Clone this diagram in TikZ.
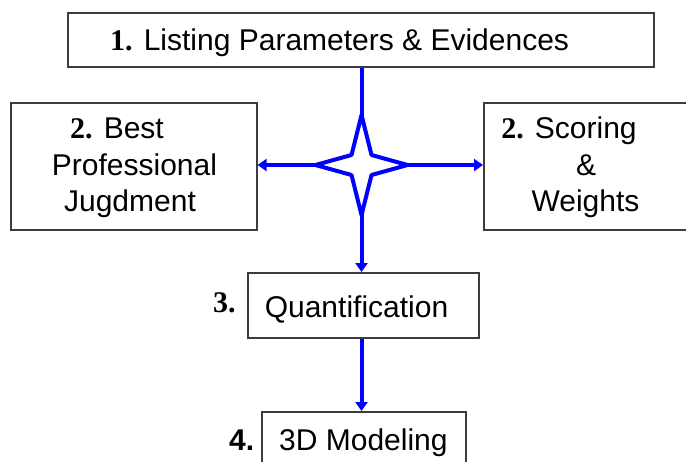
\documentclass[tikz,border=0pt]{standalone}
\usepackage{fontspec}
\setmainfont{Liberation Sans}
\newfontfamily\numserif{Liberation Serif}
\usetikzlibrary{arrows.meta}
\definecolor{arrowblue}{RGB}{0,0,255}
\definecolor{boxgray}{RGB}{60,60,60}
\begin{document}
\begin{tikzpicture}[x=1pt,y=-1pt,
  boxnode/.style={draw=boxgray,line width=1.6pt,fill=white,inner sep=0pt,anchor=north west},
  txt/.style={inner sep=0pt,font=\fontsize{30}{36}\selectfont,anchor=base},
  flow/.style={draw=arrowblue,line width=4pt},
  tipend/.style={-{Triangle[length=9pt,width=12pt]}},
  tipboth/.style={{Triangle[length=9pt,width=12pt]}-{Triangle[length=9pt,width=12pt]}}
]
\useasboundingbox (0,0) rectangle (686,461);

% boxes
\node[boxnode,minimum width=586pt,minimum height=54pt] (b1) at (67,12) {};
\node[boxnode,minimum width=246pt,minimum height=127pt] (bpj) at (10,102) {};
\node[boxnode,minimum width=210pt,minimum height=127pt] (sw) at (483,102) {};
\node[boxnode,minimum width=231pt,minimum height=65pt] (q) at (247,272) {};
\node[boxnode,minimum width=204pt,minimum height=70pt] (m) at (261,411) {};

\coordinate (sc) at (361.5,165);

% connectors
\draw[flow,tipend] (b1.south -| sc) -- (q.north -| sc);
\draw[flow,tipboth] (bpj.east |- sc) -- (sw.west |- sc);
\draw[flow,tipend] (q.south -| sc) -- (m.north -| sc);

% star
\draw[flow,fill=white,line join=round]
  ([shift={(0,-50)}]sc) -- ([shift={(10,-10)}]sc) -- ([shift={(46,0)}]sc)
  -- ([shift={(10,10)}]sc) -- ([shift={(0,50)}]sc) -- ([shift={(-10,10)}]sc)
  -- ([shift={(-46,0)}]sc) -- ([shift={(-10,-10)}]sc) -- cycle;

% texts
\node[txt,anchor=base west] (t1) at (110,50) {{\numserif\bfseries 1.} Listing Parameters \& Evidences};
\node[txt] (l1) at (117,138) {{\numserif\bfseries 2.} Best};
\node[txt] (l2) at (134.5,175) {Professional};
\node[txt] (l3) at (130,211) {Jugdment};
\node[txt] (r1) at (569,138) {{\numserif\bfseries 2.} Scoring};
\node[txt] (r2) at (586,175) {\&};
\node[txt] (r3) at (585.5,211) {Weights};
\node[txt] (tq) at (356.5,317) {Quantification};
\node[txt,anchor=base west] (n3) at (213,312) {\numserif\bfseries 3.};
\node[txt,anchor=base west] (n4) at (229,450) {\bfseries 4.};
\node[txt,anchor=base west] (tm) at (279,450) {3D Modeling};
\end{tikzpicture}
\end{document}
